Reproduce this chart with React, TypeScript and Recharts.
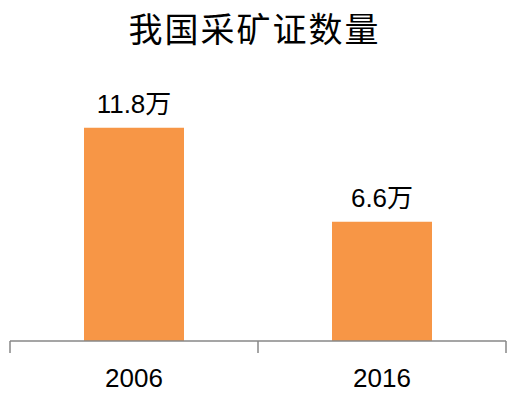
import React from 'react';
import { BarChart, Bar, XAxis, YAxis, LabelList } from 'recharts';

const years = ['2006', '2016'];
const licences = [11.8, 6.6];
const unit = '万';
const title = '我国采矿证数量';

const data = years.map((year, i) => ({ year, value: licences[i] }));

const W = 509;
const H = 398;
const margin = { top: 88, right: 3, bottom: 0, left: 10 };
const axisColor = '#878787';
const barColor = '#F79646';
const textFont = '"Liberation Sans", "Noto Sans CJK SC", sans-serif';

// Excel-style ticks sit on the category boundaries, not at the centres
const BoundaryTick = (props: any) => {
  const { x, y, payload, index } = props;
  const band = (W - margin.left - margin.right) / years.length;
  const half = payload && payload.offset ? payload.offset : band / 2;
  const left = x - half;
  const right = x + half;
  return (
    <g>
      <line x1={left} y1={y} x2={left} y2={y + 12} stroke={axisColor} strokeWidth={1.5} />
      {index === years.length - 1 && (
        <line x1={right} y1={y} x2={right} y2={y + 12} stroke={axisColor} strokeWidth={1.5} />
      )}
      <text x={x} y={y + 46} textAnchor="middle" fontSize={26} fill="#000" fontFamily={textFont}>
        {payload.value}
      </text>
    </g>
  );
};

export default function App() {
  return (
    <div style={{ position: 'absolute', left: 0, top: 0, width: W, height: H, background: '#fff' }}>
      <div
        style={{
          position: 'absolute',
          left: 0,
          top: 8,
          width: W,
          textAlign: 'center',
          fontFamily: '"Noto Sans CJK SC", sans-serif',
          fontSize: 34,
          lineHeight: '40px',
          letterSpacing: 2,
          fontWeight: 400,
          color: '#000',
        }}
      >
        {title}
      </div>
      <BarChart width={W} height={H} data={data} margin={margin} barCategoryGap={74}>
        <XAxis
          dataKey="year"
          height={57}
          tickLine={false}
          tickSize={0}
          tickMargin={0}
          interval={0}
          axisLine={{ stroke: axisColor, strokeWidth: 1.5 }}
          tick={<BoundaryTick />}
        />
        <YAxis hide domain={[0, 14]} />
        <Bar dataKey="value" fill={barColor} isAnimationActive={false}>
          <LabelList
            dataKey="value"
            position="top"
            offset={15}
            formatter={(v: any) => `${v}${unit}`}
            style={{ fontSize: 26, fill: '#000', fontFamily: textFont }}
          />
        </Bar>
      </BarChart>
    </div>
  );
}
